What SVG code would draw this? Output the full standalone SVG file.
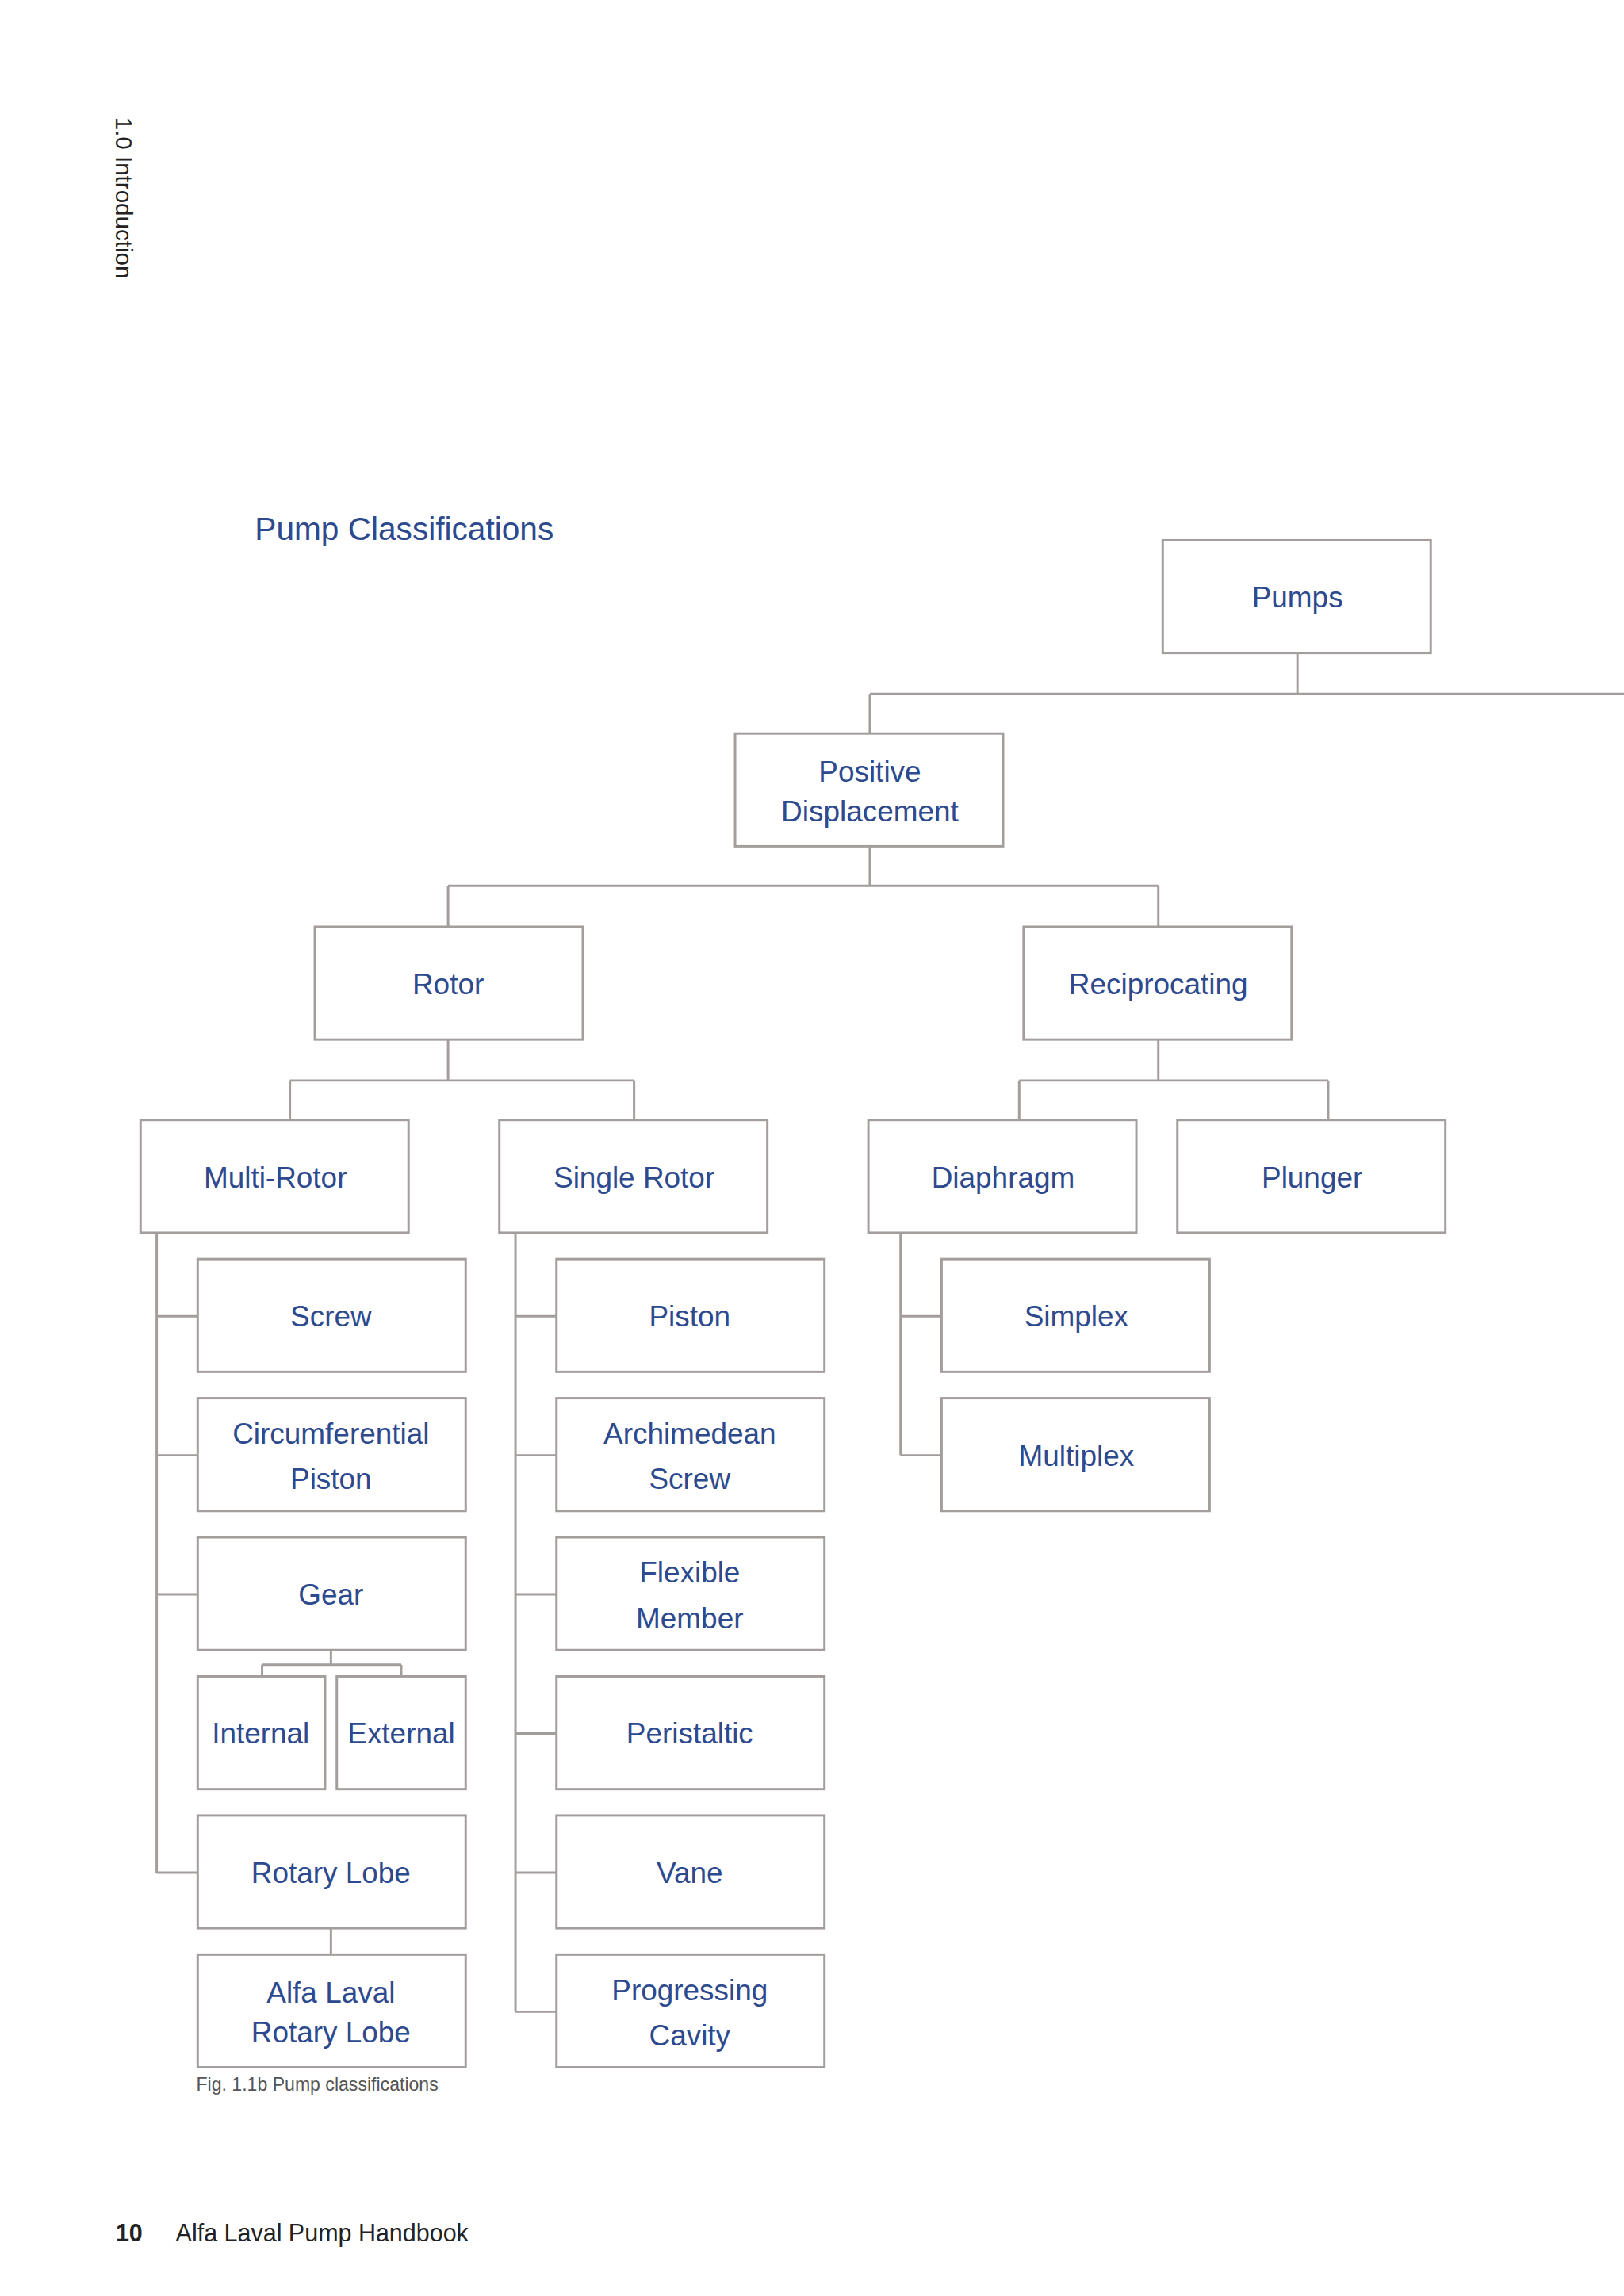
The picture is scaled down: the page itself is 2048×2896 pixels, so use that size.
<svg xmlns="http://www.w3.org/2000/svg" width="2048" height="2896" viewBox="0 0 2048 2896">
<style>
.b{fill:#fff;stroke:#a39d9c;stroke-width:1.6}
.c{fill:none;stroke:#a39d9c;stroke-width:1.6}
.t{font-family:"Liberation Sans",Arial,sans-serif;font-size:20px;fill:#2e4a8e;text-anchor:middle}
.k{font-family:"Liberation Sans",Arial,sans-serif;fill:#222}
</style>
<rect width="2048" height="2896" fill="#fff"/>
<g transform="scale(1.8467)">
<text class="k" font-size="16" transform="translate(79,80) rotate(90)">1.0 Introduction</text>
<text x="174" y="369" font-family="Liberation Sans,Arial,sans-serif" font-size="22" fill="#2e4a8e">Pump Classifications</text>
<g id="connectors">
<path class="c" d="M886,446V474M594,474H1109M594,474V501"/>
<path class="c" d="M594,578V605M306,605H791M306,605V633M791,605V633"/>
<path class="c" d="M306,710V738M198,738H433M198,738V765M433,738V765"/>
<path class="c" d="M791,710V738M696,738H907M696,738V765M907,738V765"/>
<path class="c" d="M107,842V1279M107,899H135M107,994H135M107,1089H135M107,1279H135"/>
<path class="c" d="M226,1127V1137M179,1137H274M179,1137V1145M274,1137V1145M226,1317V1335"/>
<path class="c" d="M352,842V1374M352,899H380M352,994H380M352,1089H380M352,1184H380M352,1279H380M352,1374H380"/>
<path class="c" d="M615,842V994M615,899H643M615,994H643"/>
</g>
<g id="pumps"><rect class="b" x="794" y="369" width="183" height="77"/><text class="t" x="886" y="415">Pumps</text></g>
<g id="pd"><rect class="b" x="502" y="501" width="183" height="77"/><text class="t" x="594" y="534">Positive</text><text class="t" x="594" y="561">Displacement</text></g>
<g id="rotor"><rect class="b" x="215" y="633" width="183" height="77"/><text class="t" x="306" y="679">Rotor</text></g>
<g id="recip"><rect class="b" x="699" y="633" width="183" height="77"/><text class="t" x="791" y="679">Reciprocating</text></g>
<g id="multi"><rect class="b" x="96" y="765" width="183" height="77"/><text class="t" x="188" y="811">Multi-Rotor</text></g>
<g id="single"><rect class="b" x="341" y="765" width="183" height="77"/><text class="t" x="433" y="811">Single Rotor</text></g>
<g id="diaphragm"><rect class="b" x="593" y="765" width="183" height="77"/><text class="t" x="685" y="811">Diaphragm</text></g>
<g id="plunger"><rect class="b" x="804" y="765" width="183" height="77"/><text class="t" x="896" y="811">Plunger</text></g>
<g id="screw"><rect class="b" x="135" y="860" width="183" height="77"/><text class="t" x="226" y="906">Screw</text></g>
<g id="circ"><rect class="b" x="135" y="955" width="183" height="77"/><text class="t" x="226" y="986">Circumferential</text><text class="t" x="226" y="1017">Piston</text></g>
<g id="gear"><rect class="b" x="135" y="1050" width="183" height="77"/><text class="t" x="226" y="1096">Gear</text></g>
<g id="internal"><rect class="b" x="135" y="1145" width="87" height="77"/><text class="t" x="178" y="1191">Internal</text></g>
<g id="external"><rect class="b" x="230" y="1145" width="88" height="77"/><text class="t" x="274" y="1191">External</text></g>
<g id="rotarylobe"><rect class="b" x="135" y="1240" width="183" height="77"/><text class="t" x="226" y="1286">Rotary Lobe</text></g>
<g id="alfa"><rect class="b" x="135" y="1335" width="183" height="77"/><text class="t" x="226" y="1368">Alfa Laval</text><text class="t" x="226" y="1395">Rotary Lobe</text></g>
<g id="piston"><rect class="b" x="380" y="860" width="183" height="77"/><text class="t" x="471" y="906">Piston</text></g>
<g id="arch"><rect class="b" x="380" y="955" width="183" height="77"/><text class="t" x="471" y="986">Archimedean</text><text class="t" x="471" y="1017">Screw</text></g>
<g id="flex"><rect class="b" x="380" y="1050" width="183" height="77"/><text class="t" x="471" y="1081">Flexible</text><text class="t" x="471" y="1112">Member</text></g>
<g id="peri"><rect class="b" x="380" y="1145" width="183" height="77"/><text class="t" x="471" y="1191">Peristaltic</text></g>
<g id="vane"><rect class="b" x="380" y="1240" width="183" height="77"/><text class="t" x="471" y="1286">Vane</text></g>
<g id="prog"><rect class="b" x="380" y="1335" width="183" height="77"/><text class="t" x="471" y="1366">Progressing</text><text class="t" x="471" y="1397">Cavity</text></g>
<g id="simplex"><rect class="b" x="643" y="860" width="183" height="77"/><text class="t" x="735" y="906">Simplex</text></g>
<g id="multiplex"><rect class="b" x="643" y="955" width="183" height="77"/><text class="t" x="735" y="1001">Multiplex</text></g>
<text x="134" y="1428" font-family="Liberation Sans,Arial,sans-serif" font-size="12.5" fill="#555">Fig. 1.1b Pump classifications</text>
<text class="k" x="79" y="1531" font-size="16.5" font-weight="bold">10</text>
<text class="k" x="120" y="1531" font-size="16.5">Alfa Laval Pump Handbook</text>
</g>
</svg>
